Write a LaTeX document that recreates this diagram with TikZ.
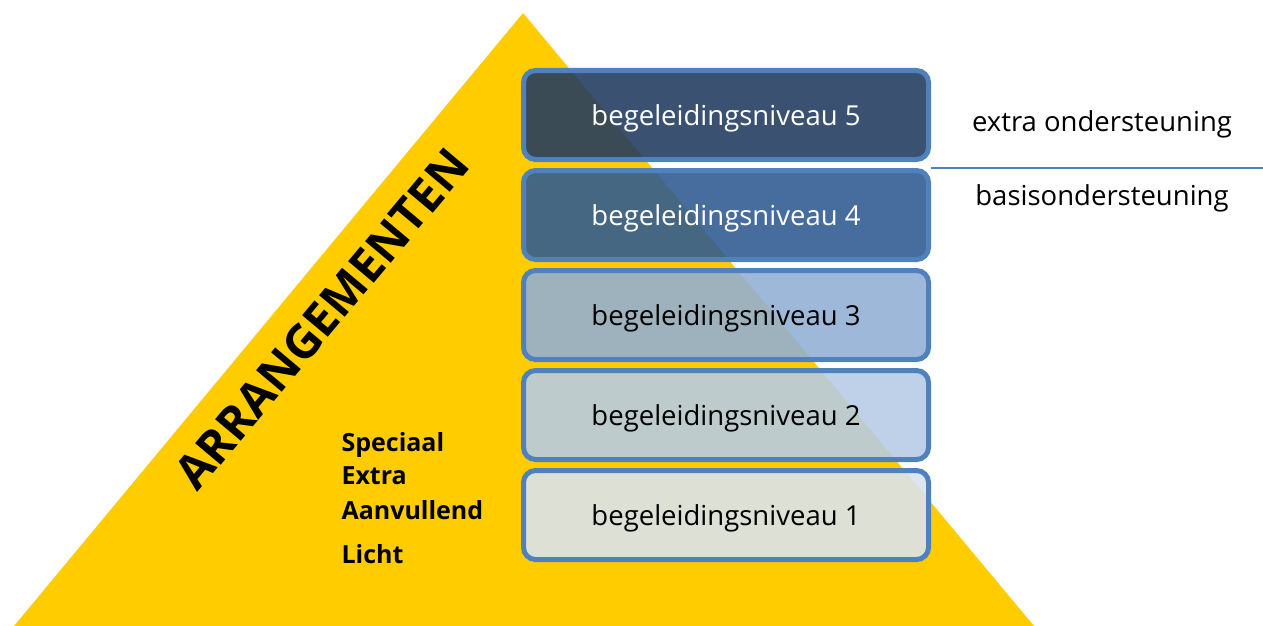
\documentclass[tikz,border=0pt]{standalone}
\usepackage{fontspec}
\setmainfont{Open Sans}
\usepackage{xcolor}
\usepackage{tikz}
\usetikzlibrary{positioning}

\definecolor{pyramid}{HTML}{FFCC00}
\definecolor{rim}{HTML}{4F81BD}
\definecolor{lvlfive}{RGB}{35,60,97}
\definecolor{lvlfour}{RGB}{48,91,146}
\definecolor{lvlthree}{RGB}{146,175,213}
\definecolor{lvltwo}{RGB}{182,203,230}
\definecolor{lvlone}{RGB}{216,227,240}

\begin{document}
\begin{tikzpicture}[
    x=1pt, y=-1pt,
    level/.style={rectangle, rounded corners=12pt, draw=rim, line width=5pt, fill opacity=0.89, text opacity=1,
        minimum width=405pt, minimum height=89pt, text height=27pt, text depth=6pt,
        font=\fontsize{27.5}{32}\selectfont},
    kind/.style={anchor=base west, font=\fontsize{25}{30}\selectfont\bfseries},
    side/.style={font=\fontsize{27.5}{32}\selectfont}
]
    \useasboundingbox (0,0) rectangle (1263,626);
    \fill[pyramid] (523,13) -- (14,626) -- (1034,626) -- cycle;

    \node[font=\fontsize{47}{54}\selectfont\bfseries, rotate=50] (arr) at (322,319) {ARRANGEMENTEN};

    \node[kind] (special) at (338,451) {Speciaal};
    \node[kind] (extra) at (338,484) {Extra};
    \node[kind] (additional) at (338,519) {Aanvullend};
    \node[kind] (light) at (338,563) {Licht};

    \node[level, fill=lvlfive, text=white] (lvl5) at (726,115) {begeleidingsniveau 5};
    \node[level, fill=lvlfour, text=white] (lvl4) at (726,215) {begeleidingsniveau 4};
    \node[level, fill=lvlthree] (lvl3) at (726,315) {begeleidingsniveau 3};
    \node[level, fill=lvltwo] (lvl2) at (726,415) {begeleidingsniveau 2};
    \node[level, fill=lvlone] (lvl1) at (726,515) {begeleidingsniveau 1};

    \coordinate (sepL) at (931,168);
    \coordinate (sepR) at (1263,168);
    \draw[rim, line width=1.5pt] (sepL) -- (sepR);

    \node[side] (extrasupport) at (1102,124) {extra ondersteuning};
    \node[side] (basesupport) at (1102,198) {basisondersteuning};
\end{tikzpicture}
\end{document}
